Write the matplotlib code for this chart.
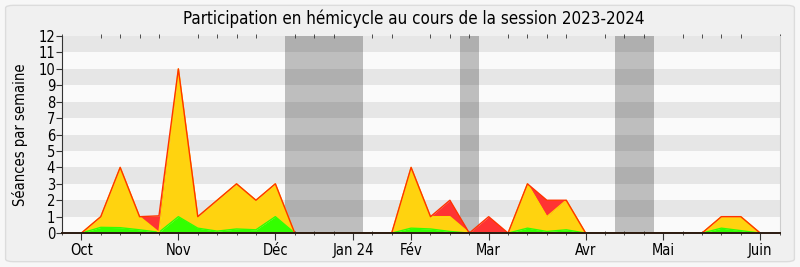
import numpy as np
import matplotlib.pyplot as plt
from matplotlib.patches import FancyBboxPatch

plt.rcParams['font.family'] = ['DejaVu Sans']
plt.rcParams['font.stretch'] = 'condensed'

# semaines de la session (0 = première semaine d'octobre)
semaines = list(range(0, 36))

# séances par semaine, par catégorie
vert = [0, 0.35, 0.33, 0.2, 0.05, 1.0, 0.3, 0.12, 0.25, 0.2, 1.0, 0,
        0, 0, 0, 0, 0, 0.3, 0.25, 0.1, 0, 0, 0, 0.3,
        0.1, 0.2, 0, 0, 0, 0, 0, 0, 0, 0.3, 0.15, 0]
jaune = [0, 0.65, 3.67, 0.8, 0, 9.0, 0.7, 1.88, 2.75, 1.8, 2.0, 0,
         0, 0, 0, 0, 0, 3.7, 0.75, 0.9, 0, 0, 0, 2.7,
         0.9, 1.8, 0, 0, 0, 0, 0, 0, 0, 0.7, 0.85, 0]
rouge = [0, 0, 0, 0, 1, 0, 0, 0, 0, 0, 0, 0,
         0, 0, 0, 0, 0, 0, 0, 1, 0, 1, 0, 0,
         1, 0, 0, 0, 0, 0, 0, 0, 0, 0, 0, 0]

mois_pos = [0, 5, 10, 14, 17, 21, 26, 30, 35]
mois_lab = ['Oct', 'Nov', 'Déc', 'Jan 24', 'Fév', 'Mar', 'Avr', 'Mai', 'Juin']

vacances = [(10.5, 14.5), (19.5, 20.5), (27.5, 29.5)]

fig = plt.figure(figsize=(8, 2.67), dpi=100)
fig.patch.set_facecolor('#f7f7f7')
fig.patches.append(FancyBboxPatch((0.007, 0.02), 0.986, 0.96, boxstyle='round,pad=0,rounding_size=0.01',
                                  transform=fig.transFigure, facecolor='#f0f0f0', edgecolor='#dcdcdc',
                                  lw=1, zorder=-10))
ax = fig.add_axes([0.0775, 0.127, 0.897, 0.738])
ax.set_facecolor('#fafafa')

# bandes horizontales alternées
for k in range(1, 12, 2):
    ax.axhspan(k, k + 1, color='#e6e6e6', lw=0, zorder=0)

for a, b in vacances:
    ax.axvspan(a, b, color='black', alpha=0.24, lw=0, zorder=1)

x = np.array(semaines)
v = np.array(vert)
j = v + np.array(jaune)
r = j + np.array(rouge)

ax.fill_between(x, j, r, color='#ff3333', lw=0, zorder=2)
ax.fill_between(x, v, j, color='#ffd30f', lw=0, zorder=2)
ax.fill_between(x, 0, v, color='#33ff00', lw=0, zorder=2)
ax.plot(x, v, color='#33ff00', lw=1, zorder=2.1)
ax.plot(x, j, color='#ffd700', lw=1, zorder=2.2)
ax.plot(x, r, color='#ff3300', lw=1, zorder=2.3)

ax.set_xlim(-1, 36)
ax.set_ylim(0, 12)
ax.set_yticks(range(0, 13))
ax.set_xticks(mois_pos)
ax.set_xticklabels(mois_lab)
ax.set_xticks(range(-1, 37), minor=True)
ax.tick_params(axis='x', which='both', length=5, color='#333333', labelsize=10.5, pad=2)
ax.tick_params(axis='y', length=4, color='#333333', labelsize=10.5, pad=1)
ax.tick_params(axis='x', which='minor', top=True, direction='inout', length=3)

ax.spines['top'].set_visible(False)
ax.spines['right'].set_color('#cccccc')
ax.spines['left'].set_color('#333333')
ax.spines['bottom'].set_color('#2a1a10')
ax.spines['bottom'].set_linewidth(1.4)
ax.spines['bottom'].set_zorder(3)

ax.set_ylabel('Séances par semaine', fontsize=10.5, labelpad=7)
fig.suptitle('Participation en hémicycle au cours de la session 2023-2024', fontsize=12.2, y=0.965, x=0.517)

fig.savefig('out.png', dpi=100, facecolor=fig.get_facecolor())
